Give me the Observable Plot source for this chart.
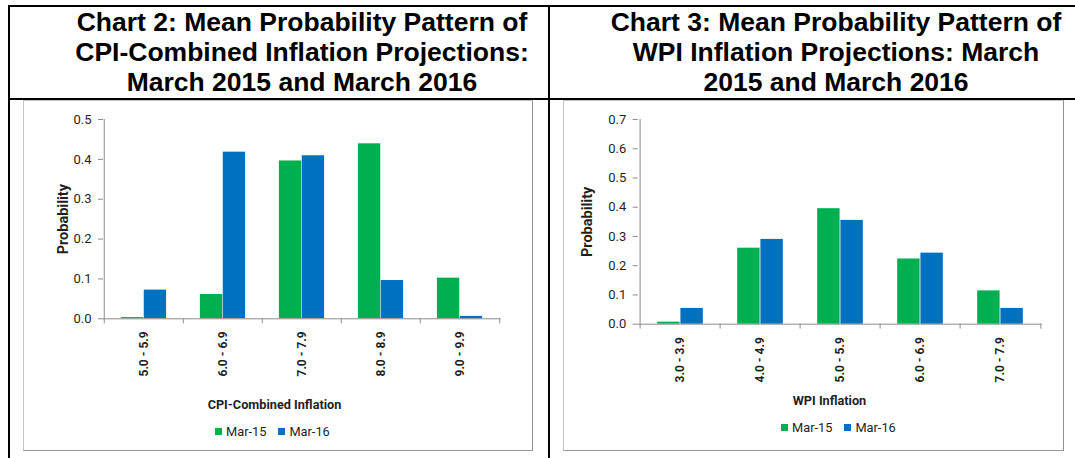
<!DOCTYPE html>
<html><head><meta charset="utf-8">
<script src="https://cdn.jsdelivr.net/npm/d3@7"></script>
<script src="https://cdn.jsdelivr.net/npm/@observablehq/plot@0.6"></script>
<style>
body{margin:0;background:#fff;}
#page{position:relative;width:1075px;height:458px;overflow:hidden;background:#fff;font-family:Roboto,sans-serif;}
.bl{position:absolute;background:#000;}
.title{position:absolute;font-family:"Liberation Sans",Arial,sans-serif;font-weight:bold;font-size:26.5px;line-height:30px;text-align:center;color:#000;white-space:nowrap;}
.frame{position:absolute;box-sizing:border-box;border-style:solid;border-width:1px;border-color:#c4c4c4 #8f8f8f #9a9a9a #c4c4c4;}
.chart{position:absolute;}
.chart svg text{fill:#1f1f1f;}
.chart svg [aria-label^="x-axis"] text{font-weight:bold;font-size:12px;}
.chart svg [aria-label^="y-axis"] text{font-size:13px;}
.legend{position:absolute;display:flex;align-items:center;font-size:12.8px;color:#1f1f1f;white-space:nowrap;font-family:Roboto,sans-serif;}
.sw{display:inline-block;width:7px;height:7px;margin-right:4px;}
.item{display:flex;align-items:center;}
</style></head>
<body>
<div id="page">
  <div class="bl" style="left:7.5px;top:5px;width:1068px;height:2px"></div>
  <div class="bl" style="left:7.5px;top:98px;width:1068px;height:2px"></div>
  <div class="bl" style="left:7.5px;top:5px;width:2px;height:453px"></div>
  <div class="bl" style="left:548px;top:5px;width:2px;height:453px"></div>
  <div class="title" style="left:0px;top:7px;width:604px">Chart 2: Mean Probability Pattern of<br>CPI-Combined Inflation Projections:<br>March 2015 and March 2016</div>
  <div class="title" style="left:576px;top:7px;width:520px">Chart 3: Mean Probability Pattern of<br>WPI Inflation Projections: March<br>2015 and March 2016</div>
  <div class="frame" style="left:23px;top:100px;width:510px;height:351px"></div>
  <div class="frame" style="left:563px;top:100px;width:501px;height:351px"></div>
  <div class="chart" id="c1" style="left:24px;top:101px"></div>
  <div class="chart" id="c2" style="left:564px;top:101px"></div>
  <div class="legend" id="l1" style="left:215px;top:424px;height:14px"></div>
  <div class="legend" id="l2" style="left:781px;top:420px;height:14px"></div>
</div>
<script>
// ---- data ----
const seriesNames = ["Mar-15", "Mar-16"];
const seriesColors = ["#00B050", "#0070C0"];

const cpiCategories = ["5.0 - 5.9", "6.0 - 6.9", "7.0 - 7.9", "8.0 - 8.9", "9.0 - 9.9"];
const cpiMar15 = [0.003, 0.061, 0.396, 0.439, 0.102];
const cpiMar16 = [0.072, 0.418, 0.409, 0.096, 0.006];
const cpiTicks = [0, 0.1, 0.2, 0.3, 0.4, 0.5];
const cpiXLabel = "CPI-Combined Inflation";

const wpiCategories = ["3.0 - 3.9", "4.0 - 4.9", "5.0 - 5.9", "6.0 - 6.9", "7.0 - 7.9"];
const wpiMar15 = [0.007, 0.260, 0.395, 0.223, 0.114];
const wpiMar16 = [0.054, 0.290, 0.355, 0.243, 0.054];
const wpiTicks = [0, 0.1, 0.2, 0.3, 0.4, 0.5, 0.6, 0.7];
const wpiXLabel = "WPI Inflation";

const yLabel = "Probability";

function makeChart(o) {
  const {categories, s1, s2, ticks, xLabel, width, height, mL, mR, mT, mB, tickPad, xdx, xdy, ydx} = o;
  const rows = categories.flatMap((c, i) => [
    {cat: c, series: seriesNames[0], v: s1[i]},
    {cat: c, series: seriesNames[1], v: s2[i]}
  ]);
  const bw = (width - mL - mR) / categories.length;
  const gap = 0.2125 * bw, barW = 0.2875 * bw;
  const yMax = ticks[ticks.length - 1];
  const axisColor = "#8c8c8c";
  return Plot.plot({
    width, height,
    marginLeft: mL, marginRight: mR, marginTop: mT, marginBottom: mB,
    style: {fontFamily: "Roboto, sans-serif", fontSize: "13px", color: axisColor, background: "transparent", overflow: "visible"},
    x: {type: "band", domain: categories, padding: 0, tickSize: 0, tickPadding: tickPad, tickRotate: -90, label: null},
    y: {domain: [0, yMax], ticks: ticks, tickFormat: d3.format(".1f"), tickSize: 5, tickPadding: 7, label: null},
    color: {domain: seriesNames, range: seriesColors},
    marks: [
      Plot.barY(rows.filter(d => d.series === seriesNames[0]), {x: "cat", y: "v", fill: "series", insetLeft: gap, insetRight: bw - gap - barW}),
      Plot.barY(rows.filter(d => d.series === seriesNames[1]), {x: "cat", y: "v", fill: "series", insetLeft: gap + barW, insetRight: gap}),
      Plot.ruleY([0], {stroke: axisColor}),
      Plot.ruleX([categories[0]], {x: d => d, y1: 0, y2: yMax, dx: -bw / 2, stroke: axisColor}),
      Plot.ruleX(categories, {x: d => d, y1: 0, y2: 0, insetBottom: -5, dx: -bw / 2, stroke: axisColor}),
      Plot.ruleX([categories[categories.length - 1]], {x: d => d, y1: 0, y2: 0, insetBottom: -5, dx: bw / 2, stroke: axisColor}),
      Plot.text([xLabel], {frameAnchor: "bottom", textAnchor: "middle", lineAnchor: "middle", text: d => d, dx: xdx, dy: xdy, fontWeight: "bold", fontSize: 12.7, fill: "#1f1f1f"}),
      Plot.text([yLabel], {frameAnchor: "left", textAnchor: "middle", lineAnchor: "middle", text: d => d, rotate: -90, dx: ydx, fontWeight: "bold", fontSize: 14.5, fill: "#1f1f1f"})
    ]
  });
}

function makeLegend(el) {
  seriesNames.forEach((name, i) => {
    const item = document.createElement("span");
    item.className = "item";
    item.style.marginRight = i === 0 ? "12px" : "0";
    const sw = document.createElement("span");
    sw.className = "sw";
    sw.style.background = seriesColors[i];
    item.appendChild(sw);
    item.appendChild(document.createTextNode(name));
    el.appendChild(item);
  });
}

document.getElementById("c1").appendChild(makeChart({
  categories: cpiCategories, s1: cpiMar15, s2: cpiMar16, ticks: cpiTicks, xLabel: cpiXLabel,
  width: 508, height: 320, mL: 79, mR: 31.5, mT: 18, mB: 102.7, tickPad: 12.5,
  xdx: -27.75, xdy: 85.7, ydx: -40.5
}));
document.getElementById("c2").appendChild(makeChart({
  categories: wpiCategories, s1: wpiMar15, s2: wpiMar16, ticks: wpiTicks, xLabel: wpiXLabel,
  width: 500, height: 320, mL: 73.7, mR: 22.3, mT: 18, mB: 97.3, tickPad: 13,
  xdx: -10.7, xdy: 76.3, ydx: -51
}));
makeLegend(document.getElementById("l1"));
makeLegend(document.getElementById("l2"));
</script>
</body></html>
